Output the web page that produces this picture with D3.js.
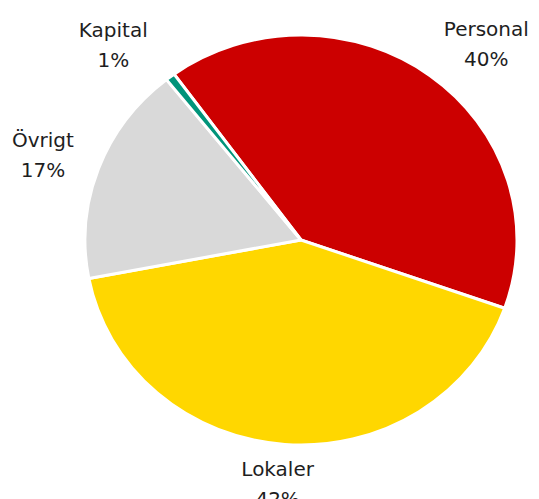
<!DOCTYPE html>
<html>
<head>
<meta charset="utf-8">
<script src="https://cdn.jsdelivr.net/npm/d3@7"></script>
<style>
  html, body { margin: 0; padding: 0; background: #fff; }
  text { font-family: "DejaVu Sans", sans-serif; font-size: 20px; fill: #1e1e1e; }
</style>
</head>
<body>
<script>
// data
var categories = ["Personal", "Lokaler", "Övrigt", "Kapital"];
var values = [40.4, 41.6, 17.3, 0.7];
var colours = ["#cc0000", "#ffd700", "#d9d9d9", "#00947a"];

var width = 539, height = 499;
var cx = 301, cy = 240;
var radius = 205;
var stretch = 216 / 205;   // the pie is drawn a little wider than tall
var start = -36 * Math.PI / 180;

var svg = d3.select("body")
  .append("svg")
    .attr("width", width)
    .attr("height", height);

var dataArray = categories.map(function(name, i) {
  return { name: name, value: values[i], colour: colours[i] };
});

var total = d3.sum(values);

var pie = d3.pie()
  .sort(null)
  .value(function(d) { return d.value; })
  .startAngle(start)
  .endAngle(start + 2 * Math.PI);

var arc = d3.arc()
  .innerRadius(0)
  .outerRadius(radius);

var arcs = pie(dataArray);

var g = svg.append("g")
  .attr("transform", "translate(" + cx + "," + cy + ") scale(" + stretch + ",1)");

g.selectAll("path")
  .data(arcs)
  .enter()
    .append("path")
      .attr("d", arc)
      .attr("fill", function(d) { return d.data.colour; })
      .attr("stroke", "#fff")
      .attr("stroke-width", 3)
      .attr("vector-effect", "non-scaling-stroke");

// labels sit on a larger ellipse at each slice's mid angle
var labelRx = 310, labelRy = 245;

var labels = svg.selectAll("g.label")
  .data(arcs)
  .enter()
    .append("g")
      .attr("class", "label");

labels.each(function(d) {
  var a = (d.startAngle + d.endAngle) / 2;
  var x = cx + labelRx * Math.sin(a);
  var y = cy - labelRy * Math.cos(a);
  var el = d3.select(this);

  var t1 = el.append("text")
    .attr("text-anchor", "middle")
    .attr("y", y - 8)
    .text(d.data.name);
  el.append("text")
    .attr("text-anchor", "middle")
    .attr("y", y + 22)
    .text(Math.round(d.data.value / total * 100) + "%");

  // keep the block inside the picture
  var half = t1.node().getComputedTextLength() / 2;
  x = Math.max(half + 12, Math.min(width - half - 6, x));
  el.selectAll("text").attr("x", x);
});
</script>
</body>
</html>
